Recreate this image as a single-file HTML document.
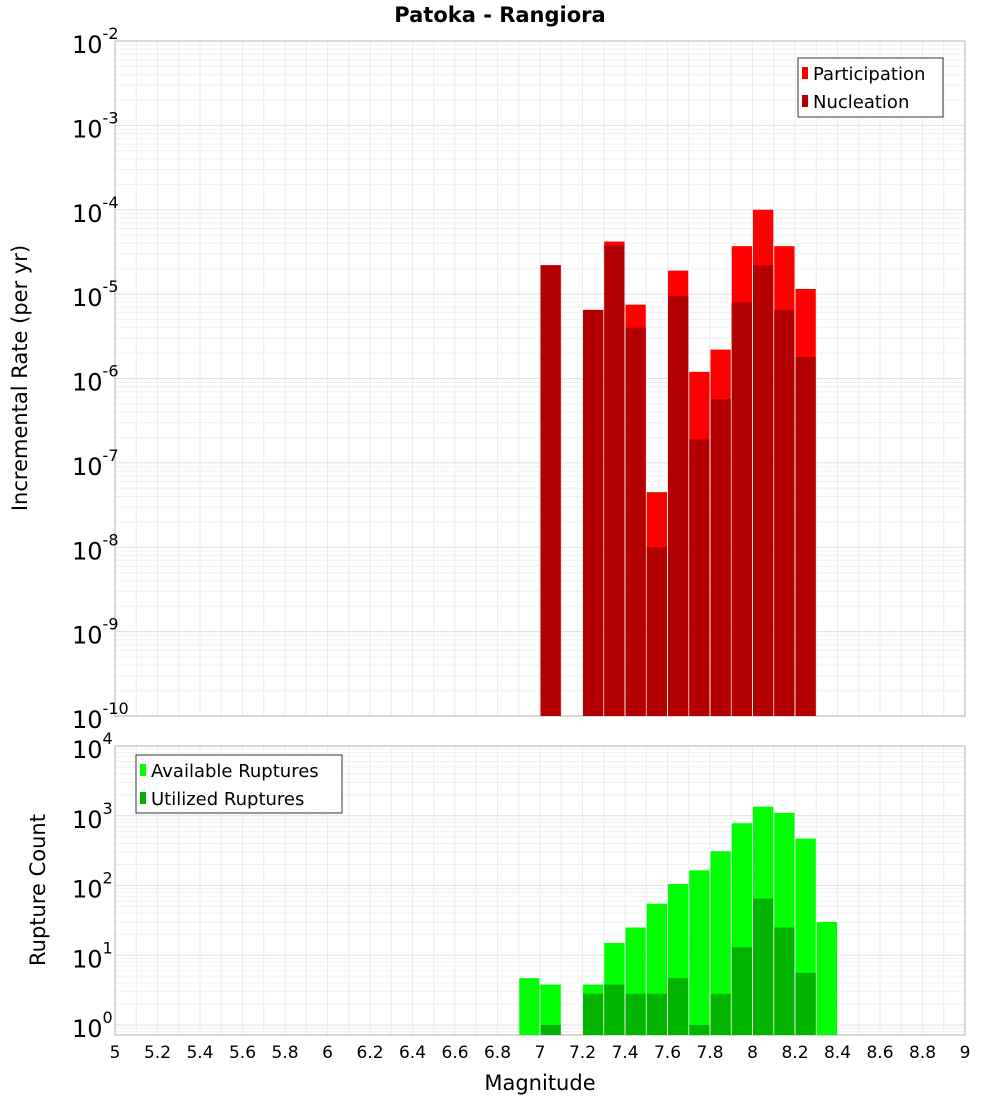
<!DOCTYPE html>
<html><head><meta charset="utf-8"><style>
body{margin:0;background:#fff;}
svg text{font-family:"DejaVu Sans","Liberation Sans",sans-serif;}
</style></head><body>
<svg id="c" width="1000" height="1100" xmlns="http://www.w3.org/2000/svg">
<rect width="1000" height="1100" fill="#fff"/>
<text x="500" y="22" text-anchor="middle" font-size="21" font-weight="bold">Patoka - Rangiora</text>
<g id="topPanel"></g>
<g id="botPanel"></g>
</svg>
<script>
const topBins=[7.05,7.25,7.35,7.45,7.55,7.65,7.75,7.85,7.95,8.05,8.15,8.25];
const participation=[2.2e-5,6.5e-6,4.2e-5,7.5e-6,4.5e-8,1.9e-5,1.2e-6,2.2e-6,3.7e-5,1e-4,3.7e-5,1.15e-5];
const nucleation=[2.2e-5,6.5e-6,3.8e-5,4e-6,1e-8,9.5e-6,1.9e-7,5.7e-7,8e-6,2.2e-5,6.5e-6,1.8e-6];
const botBins=[6.95,7.05,7.25,7.35,7.45,7.55,7.65,7.75,7.85,7.95,8.05,8.15,8.25,8.35];
const available=[4.7,3.8,3.8,15,25,55,105,165,310,780,1350,1100,470,30];
const utilized=[0,1,2.8,3.8,2.8,2.8,4.7,1,2.8,13,65,25,5.6,0];
const xTicks=[5,5.2,5.4,5.6,5.8,6,6.2,6.4,6.6,6.8,7,7.2,7.4,7.6,7.8,8,8.2,8.4,8.6,8.8,9];
const topExp=[-2,-3,-4,-5,-6,-7,-8,-9,-10];
const botExp=[4,3,2,1,0];

const NS="http://www.w3.org/2000/svg";
const X0=115,X1=965;
const xs=m=>X0+(m-5)/4*(X1-X0);
const T0=41,T1=716; const yT=v=>T0+(-2-Math.log10(v))*(T1-T0)/8;
const B0=746,B1=1035,BD=69.75; const yB=v=>B0+(4-Math.log10(v))*BD;
function mk(p,tag,a,txt){const e=document.createElementNS(NS,tag);for(const k in a)e.setAttribute(k,a[k]);if(txt!==undefined)e.textContent=txt;p.appendChild(e);return e;}
function panel(g,y0,y1,yf,exps,minD,maxD){
  const gr=mk(g,'g',{});
  
  
  for(let i=0;i<=40;i++){const m=5+i*0.1;mk(gr,'line',{x1:xs(m),x2:xs(m),y1:y0,y2:y1,stroke:'#ebebeb','stroke-width':1});}
  for(let d=minD;d<maxD;d++)for(let k=1;k<10;k++){const y=yf(k*Math.pow(10,d));if(y>=y0&&y<=y1)mk(gr,'line',{x1:X0,x2:X1,y1:y,y2:y,stroke:k==1?'#e0e0e0':'#f0f0f0','stroke-width':1});}
  mk(g,'rect',{x:X0,y:y0,width:X1-X0,height:y1-y0,fill:'none',stroke:'#b0b0b0'});
  exps.forEach(e=>{const y=yf(Math.pow(10,e));const t=mk(g,'text',{x:72,y:y+12,'font-size':24});
    
    
    mk(t,'tspan',{},'10');mk(t,'tspan',{dy:-14,'font-size':16},String(e));});
}
function bars(g,bins,vals,yf,ybot,col,name){
  bins.forEach((m,i)=>{if(vals[i]<=0)return;const x=xs(m-0.05)+0.5,w=xs(m+0.05)-xs(m-0.05)-1;const y=yf(vals[i]);
    const r=mk(g,'rect',{x:x,y:y,width:w,height:ybot-y,fill:col});
    
    });
}
const topG=document.getElementById('topPanel'),botG=document.getElementById('botPanel');
panel(topG,T0,T1,yT,topExp,-10,-2);
bars(topG,topBins,participation,yT,T1,'#ff0000','participation-bar');
bars(topG,topBins,nucleation,yT,T1,'#b40000','nucleation-bar');
panel(botG,B0,B1,yB,botExp,-1,4);
bars(botG,botBins,available,yB,B1,'#00ff00','available-bar');
bars(botG,botBins,utilized,yB,B1,'#00b400','utilized-bar');
xTicks.forEach(m=>{const t=mk(botG,'text',{x:xs(m),y:1058,'text-anchor':'middle','font-size':17},String(m));
  
  });
const svgEl=document.getElementById('c');
let tt=mk(svgEl,'text',{x:540,y:1090,'text-anchor':'middle','font-size':21},'Magnitude');


tt=mk(svgEl,'text',{x:0,y:0,'text-anchor':'middle','font-size':21,transform:'translate(27,378) rotate(-90)'},'Incremental Rate (per yr)');


tt=mk(svgEl,'text',{x:0,y:0,'text-anchor':'middle','font-size':21,transform:'translate(45,890) rotate(-90)'},'Rupture Count');


function legend(x,y,w,h,items,name){const g=mk(svgEl,'g',{});
  
  
  mk(g,'rect',{x:x,y:y,width:w,height:h,fill:'#fff',stroke:'#333'});
  items.forEach((it,i)=>{const cy=y+15+i*28;mk(g,'rect',{x:x+4,y:cy-6,width:6,height:12,fill:it[1]});
    mk(g,'text',{x:x+15,y:cy+7,'font-size':18},it[0]);});}
legend(798,58,145,59,[['Participation','#ff0000'],['Nucleation','#b40000']],'top-legend');
legend(136,755,206,58,[['Available Ruptures','#00ff00'],['Utilized Ruptures','#00b400']],'bottom-legend');
</script>
</body></html>
